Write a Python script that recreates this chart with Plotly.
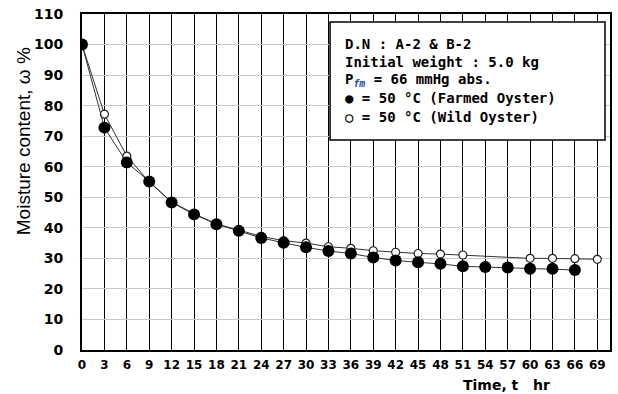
import plotly.graph_objects as go

time_farmed = [0, 3, 6, 9, 12, 15, 18, 21, 24, 27, 30, 33, 36, 39, 42, 45, 48, 51, 54, 57, 60, 63, 66]
moist_farmed = [100, 72.8, 61.4, 55.2, 48.3, 44.4, 41.2, 39.0, 36.7, 35.1, 33.6, 32.4, 31.6, 30.3, 29.3, 28.7, 28.2, 27.4, 27.2, 27.0, 26.6, 26.6, 26.2]
time_wild = [0, 3, 6, 9, 12, 15, 18, 21, 24, 27, 30, 33, 36, 39, 42, 45, 48, 51, 60, 63, 66, 69]
moist_wild = [100, 77.2, 63.5, 55.0, 48.5, 44.6, 41.3, 39.2, 37.2, 35.8, 35.0, 33.8, 33.3, 32.5, 32.0, 31.6, 31.4, 31.1, 30.0, 30.0, 29.9, 29.7]
x_ticks = list(range(0, 70, 3))
y_ticks = list(range(0, 111, 10))

legend_lines = [
    "D.N : A-2 & B-2",
    "Initial weight : 5.0 kg",
    "P<sub><span style='color:#1f4fb0'><i>fm</i></span></sub> = 66 mmHg abs.",
    "● = 50 °C (Farmed Oyster)",
    "○ = 50 °C (Wild Oyster)",
]

L, R, T, B = 82, 612, 14, 350
W, H = 618, 394

def px(x):
    return (x - L) / (R - L)

def py(y):
    return (B - y) / (B - T)

fig = go.Figure()
fig.add_trace(go.Scatter(
    x=time_wild, y=moist_wild, mode="lines+markers",
    line=dict(color="#333333", width=1),
    marker=dict(symbol="circle", size=8, color="white", line=dict(color="#222222", width=1.2)),
    showlegend=False))
fig.add_trace(go.Scatter(
    x=time_farmed, y=moist_farmed, mode="lines+markers",
    line=dict(color="#333333", width=1),
    marker=dict(symbol="circle", size=12, color="black"),
    showlegend=False))

fig.update_layout(
    width=W, height=H,
    margin=dict(l=L, r=W - R, t=T, b=H - B),
    paper_bgcolor="white", plot_bgcolor="white",
    xaxis=dict(range=[0, 70.7], tickvals=x_ticks, ticktext=[str(v) for v in x_ticks],
               showgrid=True, gridcolor="black", gridwidth=1,
               showline=True, linecolor="black", linewidth=2, mirror=True,
               ticks="outside", ticklen=3, tickcolor="white", zeroline=False,
               tickfont=dict(family="DejaVu Sans", size=12, color="black", weight="bold")),
    yaxis=dict(range=[0, 110], tickvals=y_ticks, ticktext=[str(v) for v in y_ticks],
               showgrid=True, gridcolor="#c8c8c8", gridwidth=1,
               showline=True, linecolor="black", linewidth=2, mirror=True,
               ticks="outside", ticklen=14, tickcolor="white", zeroline=False,
               tickfont=dict(family="DejaVu Sans", size=14, color="black", weight="bold")),
    font=dict(family="DejaVu Sans", color="black"),
)

fig.add_shape(type="rect", xref="paper", yref="paper",
              x0=px(331), x1=px(607), y0=py(140), y1=py(22),
              fillcolor="white", line=dict(color="black", width=1.5), layer="above")

line_y = [44, 62, 80, 98, 117]
for txt, yy in zip(legend_lines, line_y):
    fig.add_annotation(xref="paper", yref="paper", x=px(344), y=py(yy),
                       xanchor="left", yanchor="middle", showarrow=False,
                       text=txt, align="left",
                       font=dict(family="DejaVu Sans Mono", size=14, color="black", weight="bold"))

fig.add_annotation(xref="paper", yref="paper", x=px(23), y=py(141),
                   xanchor="center", yanchor="middle", showarrow=False, textangle=-90,
                   text="Moisture content, ω %",
                   font=dict(family="Liberation Sans", size=19, color="black"))
fig.add_annotation(xref="paper", yref="paper", x=px(462), y=py(385),
                   xanchor="left", yanchor="middle", showarrow=False,
                   text="Time, t   hr",
                   font=dict(family="DejaVu Sans", size=14, color="black", weight="bold"))

fig.write_html("out.html")
